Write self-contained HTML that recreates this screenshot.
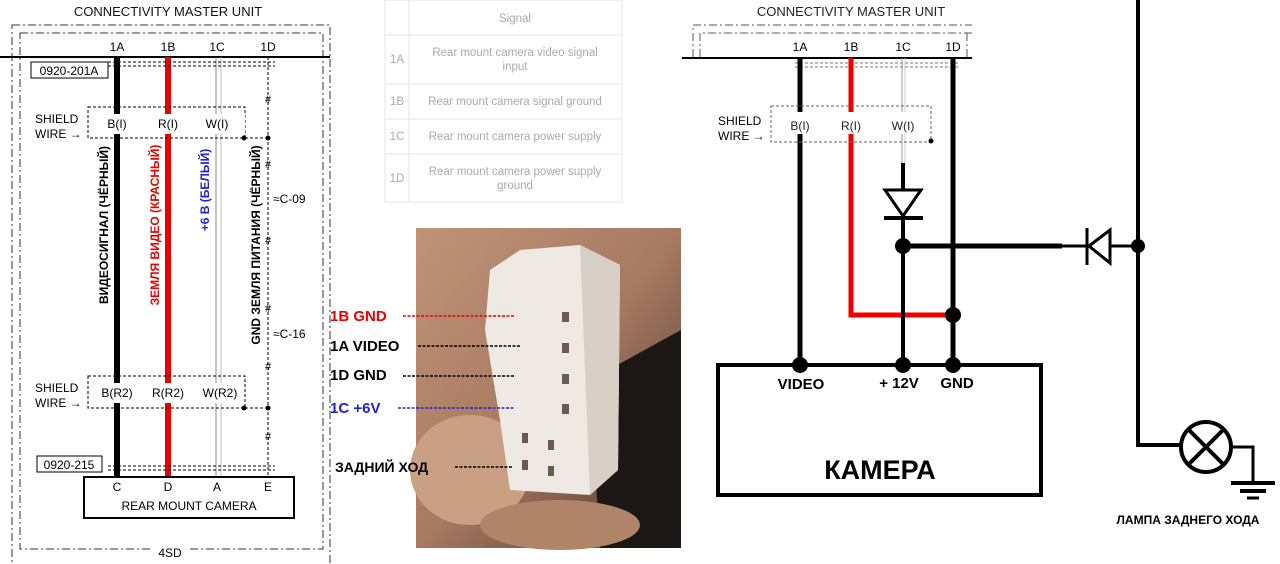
<!DOCTYPE html>
<html><head><meta charset="utf-8"><style>
html,body{margin:0;padding:0;background:#fff;width:1280px;height:564px;overflow:hidden}
svg{display:block}
text{font-family:"Liberation Sans","Noto Sans CJK SC",sans-serif}
</style></head><body>
<svg width="1280" height="564" viewBox="0 0 1280 564" xmlns="http://www.w3.org/2000/svg">
<!-- LEFT DIAGRAM -->
<text x="168" y="16" font-size="13" text-anchor="middle" fill="#111">CONNECTIVITY MASTER UNIT</text>
<rect x="12" y="25" width="318" height="540" fill="none" stroke="#333" stroke-width="1" stroke-dasharray="8,3,2,3"/>
<rect x="20" y="33" width="303" height="516" fill="none" stroke="#333" stroke-width="1" stroke-dasharray="8,3,2,3"/>
<rect x="150" y="545" width="40" height="12" fill="#fff"/>
<text x="170" y="557" font-size="12" text-anchor="middle">4SD</text>
<line x1="0" y1="57" x2="330" y2="57" stroke="#000" stroke-width="2"/>
<g font-size="12" text-anchor="middle"><text x="117" y="51">1A</text><text x="168" y="51">1B</text><text x="217" y="51">1C</text><text x="268" y="51">1D</text></g>
<line x1="117" y1="57" x2="117" y2="477" stroke="#000" stroke-width="6"/>
<line x1="168" y1="57" x2="168" y2="477" stroke="#e00" stroke-width="6"/>
<line x1="216" y1="57" x2="216" y2="477" stroke="#888" stroke-width="1"/>
<line x1="221" y1="57" x2="221" y2="477" stroke="#bbb" stroke-width="1"/>
<line x1="268" y1="57" x2="268" y2="477" stroke="#000" stroke-width="1" stroke-dasharray="3,2"/>
<line x1="108" y1="62" x2="275" y2="62" stroke="#000" stroke-dasharray="3,2"/>
<line x1="108" y1="66" x2="275" y2="66" stroke="#000" stroke-dasharray="3,2"/>
<line x1="108" y1="466" x2="275" y2="466" stroke="#000" stroke-dasharray="3,2"/>
<line x1="108" y1="470" x2="275" y2="470" stroke="#000" stroke-dasharray="3,2"/>
<rect x="31" y="62" width="77" height="16" fill="#fff" stroke="#000"/>
<text x="69" y="75" font-size="12" text-anchor="middle">0920-201A</text>
<rect x="37" y="456" width="65" height="16" fill="#fff" stroke="#000"/>
<text x="69" y="469" font-size="12" text-anchor="middle">0920-215</text>
<rect x="88" y="107" width="157" height="31" fill="none" stroke="#000" stroke-dasharray="3,2"/>
<line x1="245" y1="138" x2="268" y2="138" stroke="#000" stroke-dasharray="3,2"/>
<rect x="105" y="114" width="140" height="20" fill="#fff"/>
<g font-size="12" text-anchor="middle"><text x="117" y="128">B(I)</text><text x="168" y="128">R(I)</text><text x="217" y="128">W(I)</text></g>
<text x="35" y="123" font-size="12">SHIELD</text><text x="35" y="138" font-size="12">WIRE →</text>
<circle cx="244" cy="138" r="2.5"/><circle cx="268" cy="138" r="2.5"/>
<rect x="88" y="376" width="157" height="32" fill="none" stroke="#000" stroke-dasharray="3,2"/>
<line x1="245" y1="408" x2="268" y2="408" stroke="#000" stroke-dasharray="3,2"/>
<rect x="95" y="383" width="148" height="20" fill="#fff"/>
<g font-size="12" text-anchor="middle"><text x="117" y="397">B(R2)</text><text x="168" y="397">R(R2)</text><text x="220" y="397">W(R2)</text></g>
<text x="35" y="392" font-size="12">SHIELD</text><text x="35" y="407" font-size="12">WIRE →</text>
<circle cx="244" cy="408" r="2.5"/><circle cx="268" cy="408" r="2.5"/>
<g font-size="11" text-anchor="middle"><text x="268" y="103">#</text><text x="268" y="168">#</text><text x="268" y="244">#</text><text x="268" y="312">#</text><text x="268" y="370">#</text><text x="268" y="440">#</text></g>
<text x="273" y="203" font-size="12">≈C-09</text>
<text x="273" y="338" font-size="12">≈C-16</text>
<g font-weight="bold" font-size="12" text-anchor="middle">
<text transform="translate(108,225) rotate(-90)">ВИДЕОСИГНАЛ (ЧЁРНЫЙ)</text>
<text transform="translate(159,225) rotate(-90)" fill="#e00">ЗЕМЛЯ ВИДЕО (КРАСНЫЙ)</text>
<text transform="translate(209,190) rotate(-90)" fill="#22c">+6 В (БЕЛЫЙ)</text>
<text transform="translate(260,245) rotate(-90)">GND ЗЕМЛЯ ПИТАНИЯ (ЧЁРНЫЙ)</text>
</g>
<rect x="84" y="477" width="210" height="41" fill="#fff" stroke="#000" stroke-width="2"/>
<g font-size="12" text-anchor="middle"><text x="117" y="491">C</text><text x="168" y="491">D</text><text x="217" y="491">A</text><text x="268" y="491">E</text><text x="189" y="510">REAR MOUNT CAMERA</text></g>

<!-- TABLE -->
<g stroke="#e4e4e4" fill="none"><rect x="385" y="0" width="237" height="202"/><line x1="409" y1="0" x2="409" y2="202"/><line x1="385" y1="35" x2="622" y2="35"/><line x1="385" y1="84" x2="622" y2="84"/><line x1="385" y1="119" x2="622" y2="119"/><line x1="385" y1="154" x2="622" y2="154"/></g>
<g font-size="11.5" fill="#aaa" text-anchor="middle">
<text x="515" y="22">Signal</text>
<text x="397" y="63">1A</text><text x="515" y="56">Rear mount camera video signal</text><text x="515" y="70">input</text>
<text x="397" y="105">1B</text><text x="515" y="105">Rear mount camera signal ground</text>
<text x="397" y="140">1C</text><text x="515" y="140">Rear mount camera power supply</text>
<text x="397" y="182">1D</text><text x="515" y="175">Rear mount camera power supply</text><text x="515" y="189">ground</text>
</g>

<!-- PHOTO -->
<defs>
<linearGradient id="sk" x1="0" y1="0" x2="1" y2="1"><stop offset="0" stop-color="#c09478"/><stop offset="0.5" stop-color="#a77a62"/><stop offset="1" stop-color="#4a362c"/></linearGradient>
</defs>
<rect x="416" y="228" width="265" height="320" fill="url(#sk)"/>
<path d="M590 380 L681 330 L681 548 L600 548 Z" fill="#1b1714"/>
<ellipse cx="470" cy="470" rx="60" ry="55" fill="#c9a084"/>
<ellipse cx="560" cy="525" rx="80" ry="25" fill="#b08468"/>
<path d="M490 270 L520 250 L580 245 L620 265 L618 470 L590 495 L510 490 L500 420 L485 330 Z" fill="#eee9e3"/>
<path d="M580 245 L620 265 L618 470 L590 495 Z" fill="#d8d0c6"/>
<g fill="#6a5a50"><rect x="562" y="312" width="7" height="10"/><rect x="562" y="343" width="7" height="10"/><rect x="562" y="374" width="7" height="10"/><rect x="562" y="404" width="7" height="10"/><rect x="522" y="433" width="6" height="10"/><rect x="548" y="440" width="6" height="10"/><rect x="522" y="460" width="6" height="10"/><rect x="548" y="466" width="6" height="10"/></g>
<g font-weight="bold" font-size="15">
<text x="330" y="321" fill="#e00">1B GND</text>
<text x="330" y="351" fill="#000">1A VIDEO</text>
<text x="330" y="380" fill="#000">1D GND</text>
<text x="330" y="413" fill="#22c">1C +6V</text>
<text x="335" y="472" fill="#000" font-size="14">ЗАДНИЙ ХОД</text>
</g>
<g stroke-width="1.5" stroke-dasharray="3,1.5"><line x1="403" y1="316" x2="515" y2="316" stroke="#e00"/><line x1="418" y1="346" x2="520" y2="346" stroke="#000"/><line x1="403" y1="376" x2="515" y2="376" stroke="#000"/><line x1="398" y1="408" x2="515" y2="408" stroke="#22c"/><line x1="455" y1="467" x2="513" y2="467" stroke="#000"/></g>

<!-- RIGHT DIAGRAM -->
<text x="851" y="16" font-size="13" text-anchor="middle" fill="#222">CONNECTIVITY MASTER UNIT</text>
<path d="M693 57 V25 H972" fill="none" stroke="#555" stroke-dasharray="8,3,2,3"/>
<path d="M700 57 V33 H972 M967 33 V57" fill="none" stroke="#555" stroke-dasharray="8,3,2,3"/>
<line x1="682" y1="58" x2="972" y2="58" stroke="#000" stroke-width="2"/>
<g font-size="12" text-anchor="middle"><text x="800" y="51">1A</text><text x="851" y="51">1B</text><text x="903" y="51">1C</text><text x="953" y="51">1D</text></g>
<line x1="795" y1="63" x2="960" y2="63" stroke="#777" stroke-dasharray="3,2"/>
<line x1="795" y1="67" x2="960" y2="67" stroke="#777" stroke-dasharray="3,2"/>
<line x1="800" y1="58" x2="800" y2="365" stroke="#000" stroke-width="5"/>
<polyline points="851,58 851,315 953,315" fill="none" stroke="#e00" stroke-width="5"/>
<line x1="902" y1="58" x2="902" y2="165" stroke="#999" stroke-width="1"/>
<line x1="905" y1="58" x2="905" y2="165" stroke="#ccc" stroke-width="1"/>
<line x1="903" y1="163" x2="903" y2="365" stroke="#000" stroke-width="4"/>
<line x1="953" y1="58" x2="953" y2="365" stroke="#000" stroke-width="5"/>
<polygon points="885,190 921,190 903,216" fill="#fff" stroke="#000" stroke-width="3"/>
<line x1="884" y1="218" x2="923" y2="218" stroke="#000" stroke-width="4"/>
<line x1="903" y1="246" x2="1062" y2="246" stroke="#000" stroke-width="5"/>
<line x1="1060" y1="246" x2="1138" y2="246" stroke="#000" stroke-width="3"/>
<line x1="1087" y1="228" x2="1087" y2="265" stroke="#000" stroke-width="3"/>
<polygon points="1089,246 1110,230 1110,263" fill="#fff" stroke="#000" stroke-width="3"/>
<polyline points="1138,0 1138,445 1182,445" fill="none" stroke="#000" stroke-width="4"/>
<circle cx="1206" cy="447" r="25" fill="#fff" stroke="#000" stroke-width="4"/>
<line x1="1189" y1="430" x2="1223" y2="464" stroke="#000" stroke-width="4"/>
<line x1="1223" y1="430" x2="1189" y2="464" stroke="#000" stroke-width="4"/>
<polyline points="1231,447 1253,447 1253,482" fill="none" stroke="#000" stroke-width="3"/>
<line x1="1231" y1="483" x2="1275" y2="483" stroke="#000" stroke-width="4"/>
<line x1="1240" y1="491" x2="1266" y2="491" stroke="#000" stroke-width="4"/>
<line x1="1247" y1="498" x2="1259" y2="498" stroke="#000" stroke-width="3"/>
<text x="1188" y="524" font-size="12" font-weight="bold" text-anchor="middle">ЛАМПА ЗАДНЕГО ХОДА</text>
<rect x="771" y="106" width="160" height="36" fill="none" stroke="#666" stroke-dasharray="3,2"/>
<rect x="785" y="112" width="130" height="22" fill="#fff"/>
<g font-size="12" text-anchor="middle" fill="#222"><text x="800" y="130">B(I)</text><text x="851" y="130">R(I)</text><text x="903" y="130">W(I)</text></g>
<text x="718" y="125" font-size="12">SHIELD</text><text x="718" y="140" font-size="12">WIRE →</text>
<circle cx="931" cy="141" r="2.5"/>
<rect x="718" y="365" width="323" height="130" fill="none" stroke="#000" stroke-width="4"/>
<g fill="#000"><circle cx="800" cy="365" r="8"/><circle cx="903" cy="365" r="8"/><circle cx="953" cy="365" r="8"/><circle cx="953" cy="315" r="8"/><circle cx="903" cy="246" r="8"/><circle cx="1138" cy="246" r="7"/></g>
<g font-size="15" font-weight="bold" text-anchor="middle"><text x="801" y="389">VIDEO</text><text x="899" y="388">+ 12V</text><text x="957" y="388">GND</text></g>
<text x="880" y="479" font-size="27" font-weight="bold" text-anchor="middle">КАМЕРА</text>
</svg>
</body></html>
